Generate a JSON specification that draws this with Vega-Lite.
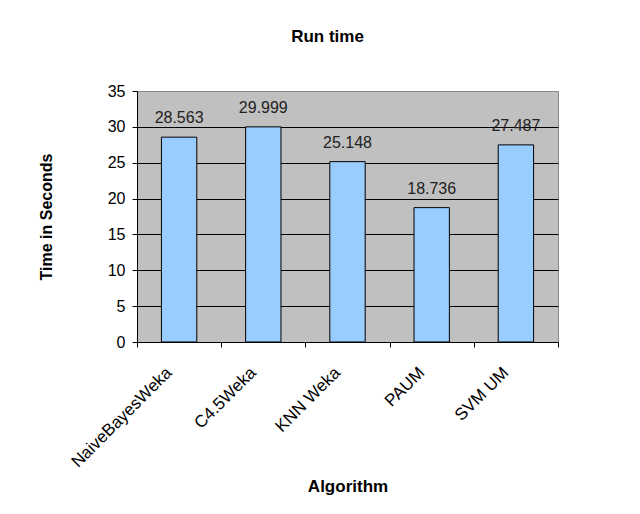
{
  "$schema": "https://vega.github.io/schema/vega-lite/v6.json",
  "width": 421,
  "height": 251,
  "autosize": {"type": "none"},
  "padding": {"left": 137, "top": 91, "right": 82, "bottom": 172},
  "background": "white",
  "config": {
    "font": "Liberation Sans",
    "view": {"fill": "#C0C0C0", "stroke": "#8a8a8a", "strokeWidth": 1}
  },
  "title": {
    "text": "Run time",
    "fontSize": 17,
    "fontWeight": "bold",
    "color": "#000",
    "anchor": "middle",
    "offset": 37,
    "dx": -20
  },
  "data": {
    "values": [
      {"algorithm": "NaiveBayesWeka", "time": 28.563},
      {"algorithm": "C4.5Weka", "time": 29.999},
      {"algorithm": "KNN Weka", "time": 25.148},
      {"algorithm": "PAUM", "time": 18.736},
      {"algorithm": "SVM UM", "time": 27.487}
    ]
  },
  "encoding": {
    "x": {
      "field": "algorithm",
      "type": "nominal",
      "sort": null,
      "scale": {"paddingInner": 0, "paddingOuter": 0},
      "axis": {
        "title": "Algorithm",
        "titleFontSize": 17,
        "titleFontWeight": "bold",
        "titleColor": "#000",
        "titlePadding": 9,
        "labelAngle": -45,
        "labelFontSize": 17,
        "labelColor": "#000",
        "labelPadding": 17,
        "labelOffset": -16,
        "domainColor": "#000",
        "tickColor": "#000",
        "tickSize": 5,
        "tickBand": "extent"
      }
    },
    "y": {
      "field": "time",
      "type": "quantitative",
      "scale": {"domain": [0, 35], "nice": false},
      "axis": {
        "title": "Time in Seconds",
        "titleFontSize": 16,
        "titleFontWeight": "bold",
        "titleColor": "#000",
        "titlePadding": 53,
        "values": [0, 5, 10, 15, 20, 25, 30, 35],
        "labelFontSize": 16,
        "labelColor": "#000",
        "labelPadding": 7,
        "domainColor": "#000",
        "tickColor": "#000",
        "tickSize": 5,
        "gridColor": {"condition": {"test": "datum.value === 35", "value": "#8a8a8a"}, "value": "#000"},
        "gridOpacity": 1,
        "gridWidth": 1
      }
    }
  },
  "layer": [
    {
      "mark": {"type": "bar", "width": {"band": 0.42}, "fill": "#99CCFF", "stroke": "#000", "strokeWidth": 1}
    },
    {
      "mark": {"type": "text", "dy": -14, "fontSize": 16, "color": "#222", "baseline": "alphabetic"},
      "encoding": {"text": {"field": "time", "type": "quantitative", "format": ".3f"}}
    }
  ]
}
